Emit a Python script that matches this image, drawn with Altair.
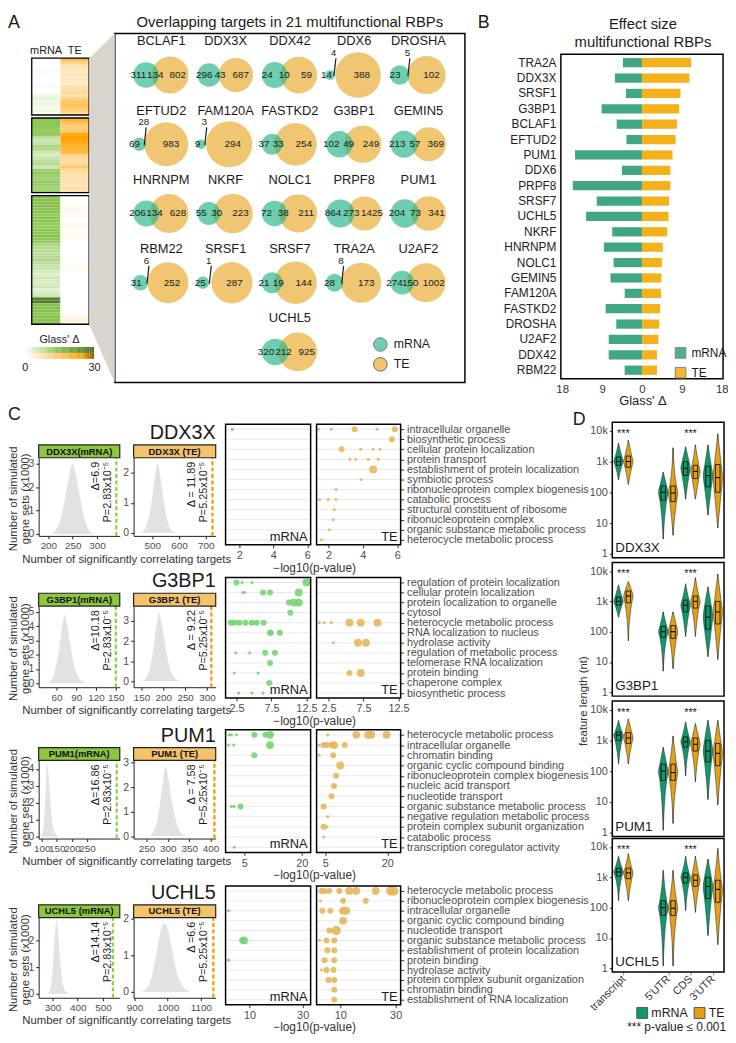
import math
import altair as alt
import pandas as pd

FONT = "Liberation Sans"
GREY = "#4d4d4d"
DARK = "#1a1a1a"

# ---------------- Panel A: heatmap (Glass' delta per RBP cluster) ----------------
heat_mrna_1 = [0, 0, 0, 0, 1, 0, 0, 0, 0, 1, 0, 0, 2, 3, 2, 2, 1, 2, 1]
heat_te_1 = [18, 12, 8, 7, 6, 7, 6, 6, 5, 8, 9, 10, 8, 12, 15, 16, 15, 13, 10]
heat_mrna_2 = [14, 14, 14, 13, 13, 13, 8, 6, 7, 10, 9, 6, 5, 7, 8, 9, 6, 12, 13, 12, 11, 13, 12, 11, 12]
heat_te_2 = [20, 17, 14, 13, 15, 24, 25, 25, 22, 21, 20, 19, 12, 10, 9, 11, 15, 10, 9, 8, 9, 8, 7, 9, 8]
heat_mrna_3 = [15, 15, 15, 15, 14, 14, 13, 14, 14, 13, 13, 14, 14, 15, 14, 13, 10, 9, 9, 8, 9, 10, 8, 7, 7,
               5, 4, 6, 5, 5, 6, 4, 5, 6, 26, 27, 15, 15, 15, 14, 15, 15, 15]
heat_te_3 = [0, 0, 0, 1, 2, 1, 1, 0, 0, 2, 2, 0, 1, 1, 2, 0, 0, 0, 0, 0, 0, 0, 1, 1, 2,
             0, 0, 0, 0, 0, 0, 0, 0, 0, 0, 0, 0, 0, 0, 0, 3, 3, 3]

# ---------------- Panel A: Venn counts ----------------
venn_names = ["BCLAF1", "DDX3X", "DDX42", "DDX6", "DROSHA", "EFTUD2", "FAM120A", "FASTKD2", "G3BP1", "GEMIN5",
              "HNRNPM", "NKRF", "NOLC1", "PRPF8", "PUM1", "RBM22", "SRSF1", "SRSF7", "TRA2A", "U2AF2", "UCHL5"]
venn_mrna_only = [311, 296, 24, 14, 23, 69, 9, 37, 102, 213, 206, 55, 72, 864, 204, 31, 25, 21, 28, 274, 320]
venn_overlap = [134, 43, 10, 4, 5, 28, 3, 33, 49, 57, 134, 30, 38, 273, 73, 6, 1, 19, 8, 150, 212]
venn_te_only = [802, 687, 59, 388, 102, 983, 294, 254, 249, 369, 628, 223, 211, 1425, 341, 252, 287, 144, 173, 1002, 925]
venn_callout = [0, 0, 0, 1, 1, 1, 1, 0, 0, 0, 0, 0, 0, 0, 0, 1, 1, 0, 1, 0, 0]

# ---------------- Panel B ----------------
b_genes = ["TRA2A", "DDX3X", "SRSF1", "G3BP1", "BCLAF1", "EFTUD2", "PUM1", "DDX6", "PRPF8", "SRSF7", "UCHL5",
           "NKRF", "HNRNPM", "NOLC1", "GEMIN5", "FAM120A", "FASTKD2", "DROSHA", "U2AF2", "DDX42", "RBM22"]
b_mrna = [4.3, 6.1, 3.6, 9.1, 5.7, 3.5, 15.1, 4.5, 15.6, 10.2, 12.6, 6.7, 8.6, 6.4, 7.1, 3.9, 8.2, 5.8, 7.5, 7.5, 3.9]
b_te = [11.1, 10.7, 8.7, 8.4, 7.9, 7.6, 6.9, 6.4, 6.4, 6.1, 6.0, 5.7, 4.7, 4.5, 4.4, 4.3, 4.1, 3.9, 3.7, 3.4, 3.4]

# ---------------- Panel C ----------------
c_rbps = ["DDX3X", "G3BP1", "PUM1", "UCHL5"]
c_strip_m = ["DDX3X(mRNA)", "G3BP1(mRNA)", "PUM1(mRNA)", "UCHL5 (mRNA)"]
c_strip_t = ["DDX3X (TE)", "G3BP1 (TE)", "PUM1 (TE)", "UCHL5 (TE)"]
c_delta_m = ["Δ=6.9", "Δ=10.18", "Δ=16.86", "Δ=14.14"]
c_delta_t = ["Δ = 11.89", "Δ = 9.22", "Δ = 7.58", "Δ =6.6"]
c_p_m = "P=2.83x10⁻⁵"
c_p_t = "P=5.25x10⁻⁵"
c_obs_m = [340, 150, 348, 540]
c_obs_t = [725, 310, 409, 1138]

hist_x_ddx3x_m = [205, 215, 225, 235, 245, 250, 255, 265, 275, 285, 295]
hist_y_ddx3x_m = [0, 0.15, 0.6, 1.6, 2.7, 3.0, 2.7, 1.6, 0.6, 0.15, 0]
hist_x_ddx3x_t = [455, 470, 485, 500, 512, 520, 528, 540, 555, 570, 590]
hist_y_ddx3x_t = [0, 0.1, 0.45, 1.2, 2.0, 2.3, 2.0, 1.2, 0.45, 0.1, 0]
hist_x_g3bp1_m = [45, 52, 58, 64, 69, 72, 75, 80, 86, 95, 108]
hist_y_g3bp1_m = [0, 0.2, 0.9, 2.4, 4.1, 4.8, 4.4, 3.0, 1.4, 0.3, 0]
hist_x_g3bp1_t = [150, 160, 170, 178, 185, 190, 195, 203, 212, 225, 240]
hist_y_g3bp1_t = [0, 0.15, 0.7, 1.7, 2.9, 3.4, 3.0, 2.0, 0.9, 0.2, 0]
hist_x_pum1_m = [95, 102, 108, 112, 116, 119, 122, 127, 133, 142, 158]
hist_y_pum1_m = [0, 0.2, 0.9, 2.2, 3.7, 4.3, 3.8, 2.5, 1.1, 0.3, 0]
hist_x_pum1_t = [255, 265, 275, 283, 290, 295, 300, 308, 318, 330, 345]
hist_y_pum1_t = [0, 0.15, 0.6, 1.5, 2.4, 2.85, 2.5, 1.6, 0.7, 0.15, 0]
hist_x_uchl5_m = [280, 290, 298, 305, 311, 316, 321, 328, 337, 348, 365]
hist_y_uchl5_m = [0, 0.15, 0.6, 1.5, 2.4, 2.75, 2.4, 1.5, 0.6, 0.15, 0]
hist_x_uchl5_t = [920, 935, 950, 963, 975, 990, 1000, 1012, 1027, 1045, 1070]
hist_y_uchl5_t = [0, 0.08, 0.35, 0.9, 1.5, 1.87, 1.7, 1.2, 0.55, 0.15, 0]

hist_xdom_m = [[180, 347], [33, 156], [90, 358], [245, 567]]
hist_ydom_m = [[-0.08, 3.25], [-0.28, 5.4], [-0.1, 4.5], [-0.15, 2.85]]
hist_xticks_m = [[200, 250, 300], [60, 90, 120, 150], [100, 150, 200, 250], [300, 400, 500]]
hist_yticks_m = [[0, 1, 2, 3], [0, 1, 2, 3, 4, 5], [0, 1, 2, 3, 4], [0, 1, 2]]
hist_xdom_t = [[430, 737], [132, 320], [220, 412], [897, 1145]]
hist_ydom_t = [[-0.1, 2.5], [-0.3, 3.74], [-0.1, 3.1], [-0.16, 2.02]]
hist_xticks_t = [[500, 600, 700], [150, 200, 250, 300], [250, 300, 350, 400], [900, 1000, 1100]]
hist_yticks_t = [[0, 1, 2], [0, 1, 2, 3], [0, 1, 2, 3], [0, 1, 2]]

go_ddx3x = ["intracellular organelle", "biosynthetic process", "cellular protein localization", "protein transport",
            "establishment of protein localization", "symbiotic process", "ribonucleoprotein complex biogenesis",
            "catabolic process", "structural constituent of ribosome", "ribonucleoprotein complex",
            "organic substance metabolic process", "heterocycle metabolic process"]
go_g3bp1 = ["regulation of protein localization", "cellular protein localization", "protein localization to organelle",
            "cytosol", "heterocycle metabolic process", "RNA localization to nucleus", "hydrolase activity",
            "regulation of metabolic process", "telomerase RNA localization", "protein binding", "chaperone complex",
            "biosynthetic process"]
go_pum1 = ["heterocycle metabolic process", "intracellular organelle", "chromatin binding",
           "organic cyclic compound binding", "ribonucleoprotein complex biogenesis", "nucleic acid transport",
           "nucleotide transport", "organic substance metabolic process", "negative regulation metabolic process",
           "protein complex subunit organization", "catabolic process", "transcription coregulator activity"]
go_uchl5 = ["heterocycle metabolic process", "ribonucleoprotein complex biogenesis", "intracellular organelle",
            "organic cyclic compound binding", "nucleotide transport", "organic substance metabolic process",
            "establishment of protein localization", "protein binding", "hydrolase activity",
            "protein complex subunit organization", "chromatin binding", "establishment of RNA localization"]

dot_row_ddx3x_m = [1]
dot_x_ddx3x_m = [1.6]
dot_s_ddx3x_m = [1]
dot_row_ddx3x_t = [1, 1, 1, 1, 1, 2, 3, 3, 3, 3, 4, 4, 4, 4, 5, 6, 7, 8, 8, 8, 9, 10, 11, 12]
dot_x_ddx3x_t = [1.41, 2.16, 3.52, 4.83, 5.86, 5.69, 2.76, 3.87, 4.6, 5.0, 3.24, 3.58, 4.32, 4.9, 4.6, 3.9,
                 2.44, 1.47, 1.98, 2.44, 2.33, 2.27, 2.04, 1.59]
dot_s_ddx3x_t = [1, 1, 2, 1, 2, 2, 2, 1, 1, 1, 1, 1, 1, 1, 3, 1, 1, 1, 1, 1, 1, 1, 1, 1]
dot_row_g3bp1_m = [1, 1, 1, 1, 2, 2, 2, 2, 2, 3, 3, 3, 4, 5, 5, 5, 5, 5, 5, 5, 6, 6, 6, 8, 8, 8, 8, 9, 10, 10, 11,
                   12, 12, 12]
dot_x_g3bp1_m = [2.5, 3.3, 4.7, 12.5, 3.45, 3.6, 6.3, 7.3, 11.4, 10.0, 10.7, 11.4, 10.2, 1.7, 2.2, 2.9, 3.8, 4.7,
                 5.4, 6.4, 7.3, 7.4, 8.7, 2.4, 4.4, 6.6, 8.0, 7.3, 2.2, 5.6, 7.2, 2.8, 4.7, 6.3]
dot_s_g3bp1_m = [2, 1, 1, 3, 1, 1, 2, 2, 3, 2, 3, 3, 2, 2, 2, 2, 2, 2, 2, 2, 2, 2, 2, 1, 1, 2, 2, 2, 1, 1, 2, 1, 1, 1]
dot_row_g3bp1_t = [5, 5, 5, 5, 5, 5, 7, 7, 7, 10, 10]
dot_x_g3bp1_t = [1.2, 1.9, 2.9, 5.5, 7.1, 9.5, 3.2, 6.7, 7.85, 5.5, 7.1]
dot_s_g3bp1_t = [1, 1, 1, 3, 3, 3, 1, 3, 3, 2, 3]
dot_row_pum1_m = [1, 1, 1, 1, 1, 1, 2, 2, 2, 3, 8, 8, 8, 12]
dot_x_pum1_m = [1.1, 1.6, 2.9, 7.6, 10.5, 11.7, 0.9, 2.2, 11.7, 7.6, 1.6, 2.3, 4.0, 2.4]
dot_s_pum1_m = [1, 1, 1, 2, 2, 3, 1, 1, 3, 2, 1, 1, 2, 1]
dot_row_pum1_t = [1, 1, 1, 1, 1, 2, 2, 2, 2, 2, 2, 3, 3, 4, 5, 6, 7, 8, 9, 10, 10, 11]
dot_x_pum1_t = [5.6, 12.5, 15.3, 16.1, 19.8, 3.5, 4.6, 5.4, 6.5, 7.1, 9.7, 3.5, 6.9, 8.6, 7.6, 7.1, 6.5, 4.6, 5.6,
                4.6, 5.4, 4.6]
dot_s_pum1_t = [1, 3, 3, 3, 3, 1, 2, 2, 2, 3, 2, 1, 2, 3, 2, 2, 2, 2, 1, 2, 1, 1]
dot_row_uchl5_m = [3, 6, 6, 8]
dot_x_uchl5_m = [2.1, 7.2, 7.9, 2.1]
dot_s_uchl5_m = [1, 2, 3, 1]
dot_row_uchl5_t = [1, 1, 1, 1, 1, 1, 1, 1, 1, 2, 2, 2, 3, 3, 3, 3, 4, 5, 5, 6, 6, 6, 7, 7, 8, 8, 9, 9, 9, 10, 10, 11, 12]
dot_x_uchl5_t = [3.2, 4.3, 6.0, 9.6, 13.2, 15.7, 22.8, 28.2, 29.3, 2.8, 11.0, 19.2, 3.5, 6.4, 11.0, 12.1, 11.0, 6.0,
                 8.5, 2.5, 5.0, 7.8, 5.3, 7.8, 4.3, 7.8, 3.2, 5.0, 7.5, 5.7, 7.8, 7.8, 7.8]
dot_s_uchl5_t = [2, 2, 2, 2, 3, 3, 3, 4, 4, 1, 2, 2, 2, 2, 3, 3, 3, 2, 4, 1, 2, 2, 2, 2, 2, 2, 1, 2, 2, 2, 2, 2, 2]

dot_xdom_m = [[1.2, 6.2], [0.95, 13.1], [0.1, 22.3], [0.95, 33]]
dot_xdom_t = [[1.3, 6.2], [0.8, 12.8], [2.9, 23.2], [1.4, 31.8]]
dot_xticks = [[2, 4, 6], [2.5, 7.5, 12.5], [5, 20], [10, 30]]

# ---------------- Panel D: feature lengths (nt) ----------------
d_categories = ["transcript", "", "5'UTR", "CDS", "3'UTR"]
d_features = ["transcript", "5'UTR", "CDS", "3'UTR"]
d_groups = ["mRNA", "TE"]
# order: transcript mRNA, transcript TE, 5'UTR mRNA, 5'UTR TE, CDS mRNA, CDS TE, 3'UTR mRNA, 3'UTR TE
d_lo_ddx3x = [250, 180, 3, 4, 60, 60, 18, 7]
d_q1_ddx3x = [750, 650, 55, 50, 350, 280, 150, 100]
d_med_ddx3x = [1000, 1000, 100, 95, 600, 480, 350, 300]
d_q3_ddx3x = [1400, 1500, 160, 160, 1000, 750, 700, 800]
d_hi_ddx3x = [4000, 5000, 450, 2800, 3000, 3500, 3500, 8000]
d_lo_g3bp1 = [300, 50, 5, 6, 70, 70, 15, 12]
d_q1_g3bp1 = [750, 900, 65, 60, 450, 600, 120, 180]
d_med_g3bp1 = [1000, 1500, 100, 100, 750, 1000, 300, 450]
d_q3_g3bp1 = [1400, 2200, 150, 160, 1100, 1500, 700, 1000]
d_hi_g3bp1 = [3500, 4500, 450, 450, 3800, 6000, 3000, 8000]
d_lo_pum1 = [170, 170, 1.2, 2, 70, 45, 12, 8]
d_q1_pum1 = [1000, 800, 50, 50, 600, 450, 200, 150]
d_med_pum1 = [1500, 1200, 100, 90, 900, 750, 450, 380]
d_q3_pum1 = [1900, 1800, 170, 170, 1300, 1200, 1000, 800]
d_hi_pum1 = [4500, 5000, 600, 1400, 4000, 3500, 4500, 4500]
d_lo_uchl5 = [170, 170, 1.2, 1.2, 80, 70, 12, 6]
d_q1_uchl5 = [1100, 900, 55, 55, 650, 500, 200, 150]
d_med_uchl5 = [1500, 1400, 100, 95, 1000, 800, 500, 400]
d_q3_uchl5 = [2000, 2000, 170, 170, 1400, 1200, 1000, 800]
d_hi_uchl5 = [5000, 6000, 1700, 1700, 5000, 5000, 4000, 9000]
d_star_features = ["transcript", "CDS"]

# ====================================================================
W, H = 728, 1038          # drawing area (the page fits it to its 720px column)
ONE = pd.DataFrame({"a": [0]})


def X(p):
    return p - 8


def Y(p):
    return p - 8


def txt(text, x, y, size=11, align="left", baseline="middle", color=DARK, weight="normal", angle=None):
    kw = dict(text=text, fontSize=size, align=align, baseline=baseline, color=color, font=FONT, fontWeight=weight)
    if angle is not None:
        kw["angle"] = angle
    return alt.Chart(ONE).mark_text(**kw).encode(x=alt.value(X(x)), y=alt.value(Y(y)))


def frame(l, t, r, b, stroke="black", sw=1.5, fill="transparent"):
    return alt.Chart(ONE).mark_rect(fill=fill, stroke=stroke, strokeWidth=sw).encode(
        x=alt.value(X(l)), x2=alt.value(X(r)), y=alt.value(Y(t)), y2=alt.value(Y(b)))


def xsc(dom, l, r, **kw):
    return alt.Scale(domain=dom, range=[X(l), X(r)], nice=False, zero=False, **kw)


def ysc(dom, top, bottom, **kw):   # domain min at bottom
    return alt.Scale(domain=dom, range=[Y(bottom), Y(top)], nice=False, zero=False, **kw)


def ax_bottom(bottom, **kw):
    return alt.Axis(orient="bottom", offset=Y(bottom) - H, **kw)


def ax_left(left, **kw):
    return alt.Axis(orient="left", offset=-X(left), **kw)


def ax_right(right, **kw):
    return alt.Axis(orient="right", offset=X(right) - W, **kw)


def ax_top(top, **kw):
    return alt.Axis(orient="top", offset=-Y(top), **kw)


parts = []

# ---------------- heatmap ----------------
hm_long, blocks = [], []
r = 0
for m_list, t_list in [(heat_mrna_1, heat_te_1), (heat_mrna_2, heat_te_2), (heat_mrna_3, heat_te_3)]:
    start = r
    for mv, tv in zip(m_list, t_list):
        hm_long.append({"row": r, "row2": r + 1, "col": "mRNA", "v": mv})
        hm_long.append({"row": r, "row2": r + 1, "col": "TE", "v": tv})
        r += 1
    blocks.append({"start": start, "end": r})
    r += 1
n_rows = r - 1
hm_df = pd.DataFrame(hm_long)
blk_df = pd.DataFrame(blocks)


def m_scale():
    return alt.Scale(type="linear", domain=[0, 14, 30], range=["#ffffff", "#8dc653", "#456e25"],
                     interpolate="rgb", zero=False, nice=False)


def t_scale():
    return alt.Scale(type="linear", domain=[0, 25, 30], range=["#ffffff", "#ffa200", "#8b5a00"],
                     interpolate="rgb", zero=False, nice=False)


hm_y = alt.Scale(domain=[0, n_rows], range=[Y(53), Y(322)], nice=False, zero=False)
hm_x = alt.Scale(domain=d_groups, range=[X(32), X(90)], paddingInner=0, paddingOuter=0)
parts.append(alt.Chart(hm_df).transform_filter("datum.col == 'mRNA'").mark_rect().encode(
    x=alt.X("col:N", scale=hm_x, axis=ax_top(53, title=None, ticks=False, domain=False, labelAngle=0,
                                             labelFontSize=11, labelColor=DARK, labelPadding=3)),
    y=alt.Y("row:Q", scale=hm_y, axis=None), y2="row2:Q",
    color=alt.Color("v:Q", scale=m_scale(), legend=None)))
parts.append(alt.Chart(hm_df).transform_filter("datum.col == 'TE'").mark_rect().encode(
    x=alt.X("col:N", scale=hm_x, axis=None), y=alt.Y("row:Q", scale=hm_y, axis=None), y2="row2:Q",
    color=alt.Color("v:Q", scale=t_scale(), legend=None)))
parts.append(alt.Chart(blk_df).mark_rect(fill="transparent", stroke="black", strokeWidth=1.3).encode(
    x=alt.value(X(32)), x2=alt.value(X(90)), y=alt.Y("start:Q", scale=hm_y, axis=None), y2="end:Q"))
parts.append(txt("A", 8, 8, size=18, baseline="top"))

leg_df = pd.DataFrame([{"v": v, "v2": v + 1, "vc": v + 0.5, "g": g} for g in d_groups for v in range(30)])
lg_x = xsc([0, 30], 25, 95)
lg_y = alt.Scale(domain=d_groups, range=[Y(345), Y(357)], paddingInner=0, paddingOuter=0)
parts.append(alt.Chart(leg_df).transform_filter("datum.g == 'mRNA'").mark_rect().encode(
    x=alt.X("v:Q", scale=lg_x, axis=ax_bottom(357, values=[0, 30], ticks=False, domain=False, title=None,
                                              labelFontSize=11, labelColor=DARK, labelPadding=3,
                                              labelFlush=False)),
    x2="v2:Q", y=alt.Y("g:N", scale=lg_y, axis=None), color=alt.Color("vc:Q", scale=m_scale(), legend=None)))
parts.append(alt.Chart(leg_df).transform_filter("datum.g == 'TE'").mark_rect().encode(
    x=alt.X("v:Q", scale=lg_x, axis=None), x2="v2:Q", y=alt.Y("g:N", scale=lg_y, axis=None),
    color=alt.Color("vc:Q", scale=t_scale(), legend=None)))
parts.append(txt("Glass' Δ", 60, 338, size=11, align="center"))


# ---------------- venn ----------------
def lens_area(r1, r2, d):
    if d >= r1 + r2:
        return 0.0
    if d <= abs(r1 - r2):
        return math.pi * min(r1, r2) ** 2
    a1 = r1 * r1 * math.acos((d * d + r1 * r1 - r2 * r2) / (2 * d * r1))
    a2 = r2 * r2 * math.acos((d * d + r2 * r2 - r1 * r1) / (2 * d * r2))
    a3 = 0.5 * math.sqrt((-d + r1 + r2) * (d + r1 - r2) * (d - r1 + r2) * (d + r1 + r2))
    return a1 + a2 - a3


def solve_d(r1, r2, target):
    lo, hi = abs(r1 - r2), r1 + r2
    for _ in range(60):
        mid = (lo + hi) / 2
        if lens_area(r1, r2, mid) > target:
            lo = mid
        else:
            hi = mid
    return (lo + hi) / 2


VENN_W = 60
circ, nums, leads, names = [], [], [], []
for i, nm in enumerate(venn_names):
    col = i % 5 if i < 20 else 2
    row = i // 5
    cx, cy = 73 + 65 * col, 42 + 70 * row
    a = venn_mrna_only[i] + venn_overlap[i]
    b = venn_te_only[i] + venn_overlap[i]
    r1, r2 = math.sqrt(a / math.pi), math.sqrt(b / math.pi)
    d = solve_d(r1, r2, venn_overlap[i])
    k = VENN_W / (r1 + d + r2)
    R1, R2, D = r1 * k, r2 * k, d * k
    c1 = cx - VENN_W / 2 + R1
    c2 = c1 + D
    circ.append({"x": c2, "y": cy, "size": math.pi * R2 ** 2, "set": "TE", "z": 0})
    circ.append({"x": c1, "y": cy, "size": math.pi * R1 ** 2, "set": "mRNA", "z": 1})
    xm = ((c1 - R1) + max(c2 - R2, c1 - R1)) / 2 - 2
    xo = ((c2 - R2) + (c1 + R1)) / 2 + 0.5
    xt = ((c1 + R1) + (c2 + R2)) / 2 + 2
    nums.append({"x": xm, "y": cy, "lab": str(venn_mrna_only[i])})
    nums.append({"x": xt, "y": cy, "lab": str(venn_te_only[i])})
    if venn_callout[i]:
        nums.append({"x": xo - 1, "y": cy - 22, "lab": str(venn_overlap[i])})
        leads.append({"x": xo + 1.5, "y": cy - 17, "x2": xo - 0.5, "y2": cy + 1})
    else:
        nums.append({"x": xo, "y": cy, "lab": str(venn_overlap[i])})
    names.append({"x": cx, "y": cy - 34, "name": nm})

vx = alt.Scale(domain=[0, 382], range=[X(90), X(472)], nice=False, zero=False)
vy = alt.Scale(domain=[0, 353], range=[Y(28), Y(381)], nice=False, zero=False)


def VX(f):
    return alt.X(f, scale=vx, axis=None)


def VY(f):
    return alt.Y(f, scale=vy, axis=None)


parts.append(frame(116, 28, 470, 381, fill="white"))
wedge_df = pd.DataFrame({"x": [0, 26], "y": [25, 0], "y2": [294, 353]})
wedge = alt.Chart(wedge_df).mark_area(color="#d9d4cd").encode(x=VX("x:Q"), y=VY("y:Q"), y2="y2:Q")
vcirc = alt.Chart(pd.DataFrame(circ)).mark_circle().encode(
    x=VX("x:Q"), y=VY("y:Q"), size=alt.Size("size:Q", scale=None),
    color=alt.Color("set:N", scale=alt.Scale(domain=d_groups, range=["#25b48a", "#ecb64a"]),
                    legend=alt.Legend(title=None, orient="none", legendX=X(377), legendY=Y(335),
                                      symbolType="circle", symbolSize=190, symbolStrokeColor="#444",
                                      symbolStrokeWidth=1, symbolOpacity=0.7, labelFontSize=12.5,
                                      labelFont=FONT, labelColor=DARK, rowPadding=1, padding=0, labelOffset=6)),
    opacity=alt.Opacity("set:N", scale=alt.Scale(domain=d_groups, range=[0.66, 0.78]), legend=None),
    order=alt.Order("z:Q"))
vnums = alt.Chart(pd.DataFrame(nums)).mark_text(fontSize=10, font=FONT, color=DARK).encode(
    x=VX("x:Q"), y=VY("y:Q"), text="lab:N")
vlead = alt.Chart(pd.DataFrame(leads)).mark_rule(color=DARK, strokeWidth=1.2).encode(
    x=VX("x:Q"), y=VY("y:Q"), x2="x2:Q", y2="y2:Q")
vnames = alt.Chart(pd.DataFrame(names)).mark_text(fontSize=13, font=FONT, color=DARK).encode(
    x=VX("x:Q"), y=VY("y:Q"), text="name:N")
parts.append(alt.layer(wedge, vcirc, vnums, vlead, vnames))
parts.append(txt("Overlapping targets in 21 multifunctional RBPs", 293, 16, size=15, align="center"))

# ---------------- panel B ----------------
b_rows = []
for g, m, t in zip(b_genes, b_mrna, b_te):
    b_rows.append({"gene": g, "set": "mRNA", "x0": 0, "x1": -m})
    b_rows.append({"gene": g, "set": "TE", "x0": 0, "x1": t})
parts.append(alt.Chart(pd.DataFrame(b_rows)).mark_bar().encode(
    x=alt.X("x0:Q", scale=xsc([-18.3, 18.3], 567, 731),
            axis=ax_bottom(377, values=[-18, -9, 0, 9, 18], labelExpr="abs(datum.value)", title=None,
                           ticks=False, domain=False, grid=False, labelFontSize=11.5, labelColor="#333",
                           labelPadding=5, labelOverlap=False)),
    x2="x1:Q",
    y=alt.Y("gene:N", scale=alt.Scale(domain=b_genes, range=[Y(49), Y(377)], paddingInner=0.4, paddingOuter=0.25),
            axis=ax_left(567, title=None, ticks=False, domain=False, labelFontSize=12, labelColor="#222",
                         labelPadding=5)),
    color=alt.Color("set:N", scale=alt.Scale(domain=d_groups, range=["#40a685", "#f5b11b"]),
                    legend=alt.Legend(title=None, orient="none", legendX=X(682), legendY=Y(345),
                                      symbolType="square", symbolSize=115, symbolStrokeColor="#777",
                                      symbolStrokeWidth=1, symbolOpacity=0.9, labelFontSize=12, labelFont=FONT,
                                      labelColor=DARK, rowPadding=4, padding=0, labelOffset=5))))
parts.append(frame(567, 49, 731, 377))
parts.append(txt("Glass' Δ", 650, 400, size=13, align="center"))
parts.append(txt("Effect size", 650, 18, size=15, align="center"))
parts.append(txt("multifunctional RBPs", 650, 37, size=15, align="center"))
parts.append(txt("B", 483, 8, size=18, baseline="top"))

# ---------------- panel C ----------------
HROWS = [(457, 536), (607, 689), (763, 842), (922, 1003)]
DROWS = [(423, 545), (578, 700), (732, 856), (890, 1010)]
HMX, HTX, DMX, DTX = (39, 121), (135, 218), (228, 314), (320, 405)

hist_x_m = [hist_x_ddx3x_m, hist_x_g3bp1_m, hist_x_pum1_m, hist_x_uchl5_m]
hist_y_m = [hist_y_ddx3x_m, hist_y_g3bp1_m, hist_y_pum1_m, hist_y_uchl5_m]
hist_x_t = [hist_x_ddx3x_t, hist_x_g3bp1_t, hist_x_pum1_t, hist_x_uchl5_t]
hist_y_t = [hist_y_ddx3x_t, hist_y_g3bp1_t, hist_y_pum1_t, hist_y_uchl5_t]
dots_m = [(dot_row_ddx3x_m, dot_x_ddx3x_m, dot_s_ddx3x_m), (dot_row_g3bp1_m, dot_x_g3bp1_m, dot_s_g3bp1_m),
          (dot_row_pum1_m, dot_x_pum1_m, dot_s_pum1_m), (dot_row_uchl5_m, dot_x_uchl5_m, dot_s_uchl5_m)]
dots_t = [(dot_row_ddx3x_t, dot_x_ddx3x_t, dot_s_ddx3x_t), (dot_row_g3bp1_t, dot_x_g3bp1_t, dot_s_g3bp1_t),
          (dot_row_pum1_t, dot_x_pum1_t, dot_s_pum1_t), (dot_row_uchl5_t, dot_x_uchl5_t, dot_s_uchl5_t)]
go_terms = [go_ddx3x, go_g3bp1, go_pum1, go_uchl5]


def hist(px, py, xdom, ydom, xt, yt, obs, col, t1, t2, xr, yr):
    (l, rr), (top, bot) = xr, yr
    xs_ = xsc(xdom, l, rr)
    ys_ = ysc(ydom, top, bot)
    axkw = dict(grid=False, domainColor="#222", tickColor="#222", tickSize=3, labelColor=GREY, labelPadding=2,
                title=None, format="d", labelOverlap=False)
    xax = ax_bottom(bot, values=xt, labelFontSize=10, **axkw)
    yax = ax_left(l, values=yt, labelFontSize=10.5, **axkw)
    area = alt.Chart(pd.DataFrame({"x": px, "y": py})).mark_area(color="#e2e2e2", interpolate="monotone").encode(
        x=alt.X("x:Q", scale=xs_, axis=xax), y=alt.Y("y:Q", scale=ys_, axis=yax))
    rule = alt.Chart(pd.DataFrame({"obs": [obs], "y0": [ydom[0]], "y1": [ydom[1]]})).mark_rule(
        color=col, strokeDash=[4, 2.5], strokeWidth=2.3).encode(
        x=alt.X("obs:Q", scale=xs_, axis=xax), y=alt.Y("y0:Q", scale=ys_, axis=yax), y2="y1:Q")
    return [alt.layer(area, rule),
            txt(t1, rr - 24, top + 4, size=11, align="right", angle=270),
            txt(t2, rr - 12, top + 4, size=11, align="right", angle=270)]


def strip(label, l, rr, top, fill):
    return [frame(l, top - 13, rr, top, stroke="#222", sw=1.2, fill=fill),
            txt(label, (l + rr) / 2, top - 6.3, size=9.5, align="center", weight="bold", color="#111")]


def dots(i, which):
    rows, xs, ss = dots_m[i] if which == "m" else dots_t[i]
    l, rr = DMX if which == "m" else DTX
    top, bot = DROWS[i]
    dom = dot_xdom_m[i] if which == "m" else dot_xdom_t[i]
    color = "#72d672" if which == "m" else "#e6b75d"
    xs_ = xsc(dom, l, rr)
    ys_ = alt.Scale(domain=[0.5, 12.5], range=[Y(top), Y(bot)], nice=False, zero=False)
    if which == "t":
        expr = "[" + ",".join("'" + t + "'" for t in go_terms[i]) + "][datum.value - 1]"
        yax = ax_right(rr, values=list(range(1, 13)), labelExpr=expr, grid=False, domain=False, ticks=True,
                       tickSize=3, tickColor="#333", labelFontSize=11, labelColor=GREY, labelPadding=3,
                       title=None, labelBound=False, labelOverlap=False, labelLimit=400)
    else:
        yax = None
    xax = ax_bottom(bot, values=dot_xticks[i], grid=False, domain=False, tickSize=3, tickColor="#333",
                    labelFontSize=11, labelColor=GREY, labelPadding=2, title=None,
                    labelExpr="'' + datum.value", labelOverlap=False)
    grid = alt.Chart(pd.DataFrame({"row": list(range(1, 13)), "x0": dom[0], "x1": dom[1]})).mark_rule(
        color="#e3e3e3", strokeWidth=0.8).encode(
        x=alt.X("x0:Q", scale=xs_, axis=xax), x2="x1:Q", y=alt.Y("row:Q", scale=ys_, axis=yax))
    pts = alt.Chart(pd.DataFrame({"row": rows, "x": xs, "s": ss})).mark_circle(color=color, opacity=0.9).encode(
        x=alt.X("x:Q", scale=xs_, axis=xax), y=alt.Y("row:Q", scale=ys_, axis=yax),
        size=alt.Size("s:Q", scale=alt.Scale(domain=[1, 4], range=[10, 90]), legend=None))
    return [alt.layer(grid, pts), frame(l, top, rr, bot),
            txt("mRNA" if which == "m" else "TE", rr - 3, bot - 1, size=13, align="right", baseline="bottom")]


for i in range(4):
    top, bot = HROWS[i]
    parts += hist(hist_x_m[i], hist_y_m[i], hist_xdom_m[i], hist_ydom_m[i], hist_xticks_m[i], hist_yticks_m[i],
                  c_obs_m[i], "#8bd43b", c_delta_m[i], c_p_m, HMX, HROWS[i])
    parts += hist(hist_x_t[i], hist_y_t[i], hist_xdom_t[i], hist_ydom_t[i], hist_xticks_t[i], hist_yticks_t[i],
                  c_obs_t[i], "#f59b00", c_delta_t[i], c_p_t, HTX, HROWS[i])
    parts += strip(c_strip_m[i], HMX[0], HMX[1], top, "#8dc63f")
    parts += strip(c_strip_t[i], HTX[0], HTX[1], top, "#f4c36b")
    parts.append(txt(c_rbps[i], HTX[1], top - 19, size=20, align="right", baseline="alphabetic"))
    parts.append(txt("Number of significantly correlating targets", 128, bot + 24, size=11.5, align="center",
                     color="#333"))
    parts.append(txt("Number of simulated", 14, (top + bot) / 2 + 2, size=11.5, align="center", angle=270,
                     color="#333"))
    parts.append(txt("gene sets (x1000)", 26, (top + bot) / 2 + 2, size=11.5, align="center", angle=270,
                     color="#333"))
    parts += dots(i, "m")
    parts += dots(i, "t")
    parts.append(txt("−log10(p-value)", 318, DROWS[i][1] + 23, size=12, align="center", color="#333"))
parts.append(txt("C", 8, 405, size=18, baseline="top"))

# ---------------- panel D ----------------
DPANS = [(421, 558), (563, 698), (703, 840), (842, 977)]
DXL, DXR = 619, 732
HW, OFF, BW = 0.21, 0.22, 0.1
VPROF = [0.0, 0.72, 1.0, 0.72, 0.0]
d_sets = [
    ("DDX3X", d_lo_ddx3x, d_q1_ddx3x, d_med_ddx3x, d_q3_ddx3x, d_hi_ddx3x),
    ("G3BP1", d_lo_g3bp1, d_q1_g3bp1, d_med_g3bp1, d_q3_g3bp1, d_hi_g3bp1),
    ("PUM1", d_lo_pum1, d_q1_pum1, d_med_pum1, d_q3_pum1, d_hi_pum1),
    ("UCHL5", d_lo_uchl5, d_q1_uchl5, d_med_uchl5, d_q3_uchl5, d_hi_uchl5),
]
d_color = alt.Scale(domain=d_groups, range=["#0f9a6e", "#e3a116"])
x_labels = "['transcript','',\"5'UTR\",'CDS',\"3'UTR\"][datum.value]"


def d_panel(idx):
    name, lo, q1, med, q3, hi = d_sets[idx]
    top, bot = DPANS[idx]
    vio, box = [], []
    for k in range(8):
        feat, grp = d_features[k // 2], d_groups[k % 2]
        xc = d_categories.index(feat) + (-OFF if grp == "mRNA" else OFF)
        for yv, wv in zip([lo[k], q1[k], med[k], q3[k], hi[k]], VPROF):
            vio.append({"id": k, "grp": grp, "yv": yv, "xl": xc - wv * HW, "xr": xc + wv * HW})
        box.append({"grp": grp, "xc": xc, "bl": xc - BW, "br": xc + BW, "lo": lo[k], "q1": q1[k],
                    "med": med[k], "q3": q3[k], "hi": hi[k]})
    xs_ = xsc([-0.5, 4.5], DXL, DXR)
    ys_ = alt.Scale(type="log", domain=[0.75, 19000], range=[Y(bot), Y(top)], nice=False)
    last = idx == 3
    if last:
        xax = ax_bottom(bot, values=[0, 2, 3, 4], labelExpr=x_labels, labelAngle=315, labelAlign="right",
                        labelBaseline="middle", labelFontSize=11, labelColor="#333", tickSize=3, domain=False,
                        grid=False, title=None, labelPadding=2, labelOverlap=False, labelBound=False)
        legend = alt.Legend(title=None, orient="none", legendX=X(643), legendY=Y(1012), direction="horizontal",
                            symbolType="square", symbolSize=120, symbolStrokeColor="#555", symbolStrokeWidth=1,
                            labelFontSize=12.5, labelFont=FONT, labelColor=DARK, columnPadding=3, padding=0,
                            labelOffset=3)
    else:
        xax = alt.Axis(orient="bottom", labels=False, ticks=False, domain=False, grid=False, title=None)
        legend = None
    yax = ax_left(DXL, values=[1, 10, 100, 1000, 10000], format="~s", labelFontSize=11, labelColor=GREY,
                  tickSize=3, tickColor="#333", domain=False, grid=False, title=None, labelPadding=2,
                  labelOverlap=False)
    bdf = pd.DataFrame(box)
    whisk = alt.Chart(bdf).mark_rule(color="#2a2a2a", strokeWidth=0.9).encode(
        x=alt.X("xc:Q", scale=xs_, axis=xax), y=alt.Y("lo:Q", scale=ys_, axis=yax), y2="hi:Q")
    area = alt.Chart(pd.DataFrame(vio)).mark_area(orient="horizontal", interpolate="monotone", stroke="#3a3a3a",
                                                  strokeWidth=0.6).encode(
        y=alt.Y("yv:Q", scale=ys_, axis=yax), x=alt.X("xl:Q", scale=xs_, axis=xax), x2="xr:Q",
        detail="id:N", color=alt.Color("grp:N", scale=d_color, legend=legend))
    rect = alt.Chart(bdf).mark_rect(stroke="black", strokeWidth=0.8).encode(
        x=alt.X("bl:Q", scale=xs_, axis=xax), x2="br:Q", y=alt.Y("q1:Q", scale=ys_, axis=yax),
        y2="q3:Q", color=alt.Color("grp:N", scale=d_color, legend=legend))
    medr = alt.Chart(bdf).mark_rule(color="black", strokeWidth=1.1).encode(
        x=alt.X("bl:Q", scale=xs_, axis=xax), x2="br:Q", y=alt.Y("med:Q", scale=ys_, axis=yax))
    stars = alt.Chart(pd.DataFrame({"xs": [d_categories.index(f) for f in d_star_features],
                                    "ys": [8000, 8000], "t": ["***", "***"]})).mark_text(
        fontSize=11, font=FONT, color=DARK, baseline="middle").encode(
        x=alt.X("xs:Q", scale=xs_, axis=xax), y=alt.Y("ys:Q", scale=ys_, axis=yax), text="t:N")
    return [alt.layer(whisk, area, rect, medr, stars), frame(DXL, top, DXR, bot),
            txt(name, DXL + 3, bot - 3, size=13.5, baseline="bottom")]


for i in range(4):
    parts += d_panel(i)
parts.append(txt("D", 579, 410, size=18, baseline="top"))
parts.append(txt("feature length (nt)", 590, 703, size=11.5, align="center", angle=270, color="#333"))
parts.append(txt("*** p-value ≤ 0.001", 734, 1033, size=12, align="right"))

chart = alt.layer(*parts).resolve_scale(
    x="independent", y="independent", color="independent", size="independent", opacity="independent"
).resolve_axis(x="independent", y="independent").properties(
    width=W, height=H, padding=0, autosize=alt.AutoSizeParams(type="none")
).configure_view(stroke="transparent").configure_axis(labelFont=FONT, titleFont=FONT).configure_legend(
    labelFont=FONT)

chart.save("out.html", embed_options={"renderer": "svg", "actions": False})
